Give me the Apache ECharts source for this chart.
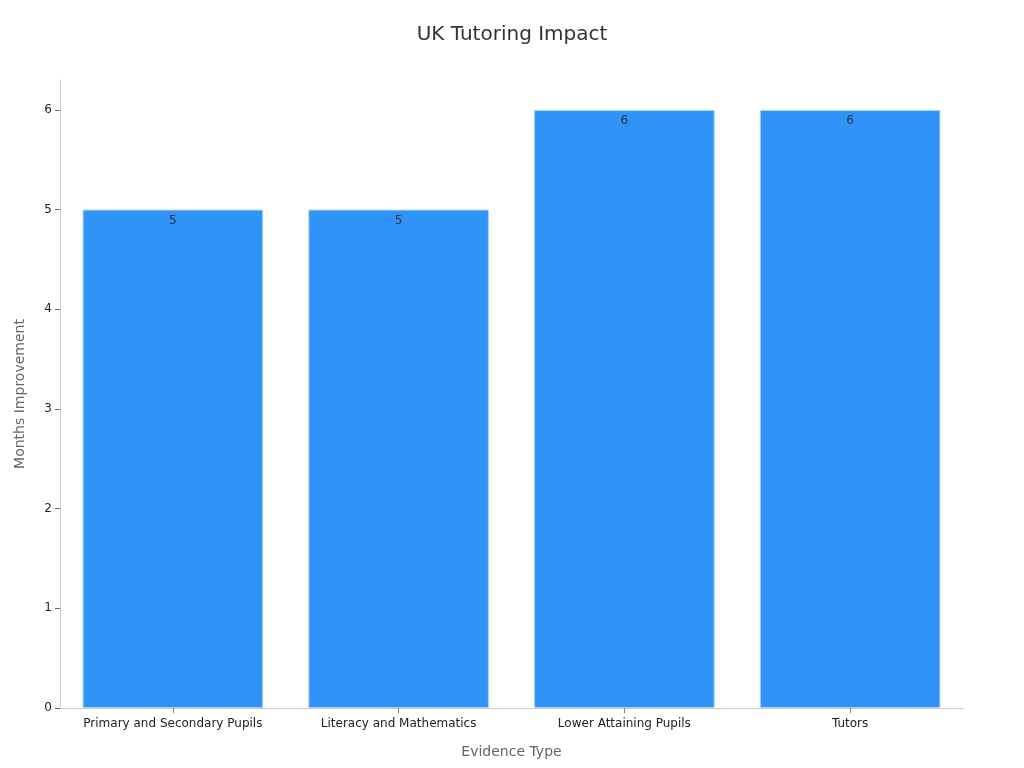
<!DOCTYPE html>
<html>
<head>
    <meta charset="utf-8">
    <title>UK Tutoring Impact</title>
    <script src="https://cdn.jsdelivr.net/npm/echarts@6/dist/echarts.min.js"></script>
    <style>
        html, body { margin: 0; padding: 0; background: #fff; }
        #chart1 { width: 1024px; height: 768px; }
    </style>
</head>
<body>
<div id="chart1"></div>
<script>
    // 数据
    var categories = ['Primary and Secondary Pupils', 'Literacy and Mathematics', 'Lower Attaining Pupils', 'Tutors'];
    var months = [5, 5, 6, 6];
    var yTicks = [0, 1, 2, 3, 4, 5, 6];

    var myChart1 = echarts.init(document.getElementById('chart1'));
    myChart1.setOption({
        textStyle: { fontFamily: 'DejaVu Sans' },
        title: {
            text: 'UK Tutoring Impact',
            left: 'center',
            top: 20,
            textStyle: { fontSize: 20, fontWeight: 'normal', color: '#333', fontFamily: 'DejaVu Sans' }
        },
        grid: { left: 60, right: 61, top: 80, bottom: 60 },
        xAxis: {
            type: 'category',
            data: categories,
            name: 'Evidence Type',
            nameLocation: 'middle',
            nameGap: 37,
            nameTextStyle: { fontSize: 14, color: '#666' },
            axisLine: { lineStyle: { color: '#ccc' } },
            axisTick: { show: true, alignWithLabel: true, length: 5, lineStyle: { color: '#888', width: 1 } },
            axisLabel: { color: '#222', fontSize: 12, margin: 10, interval: 0 }
        },
        yAxis: {
            type: 'value',
            min: 0,
            max: 6.3,
            name: 'Months Improvement',
            nameLocation: 'middle',
            nameGap: 33,
            nameTextStyle: { fontSize: 14, color: '#666' },
            axisLine: { show: true, lineStyle: { color: '#ccc' } },
            axisTick: { show: true, customValues: yTicks, lineStyle: { color: '#666' } },
            axisLabel: { color: '#222', fontSize: 12, customValues: yTicks },
            splitLine: { show: false }
        },
        series: [{
            name: 'Months Improvement',
            type: 'bar',
            data: months,
            barWidth: '80%',
            itemStyle: { color: '#2f93f8', borderColor: '#a9d3fc', borderWidth: 1 },
            label: {
                show: true,
                position: 'insideTop',
                color: '#333',
                fontSize: 12
            }
        }]
    });
</script>
</body>
</html>
